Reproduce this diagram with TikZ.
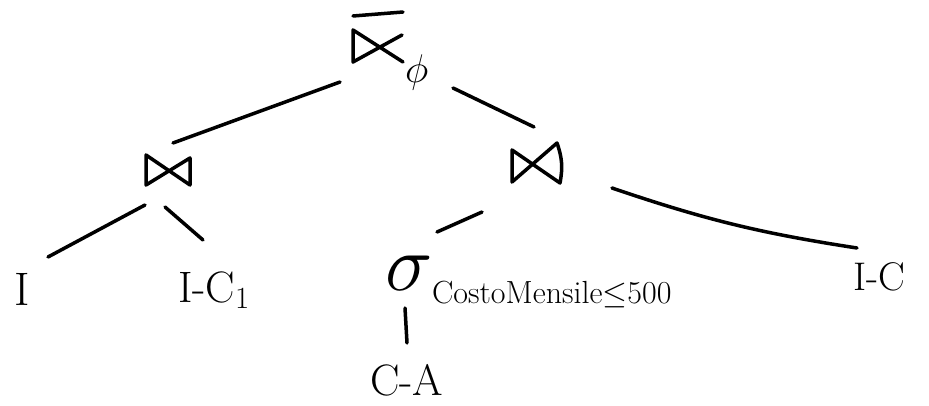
\RequirePackage{fix-cm}
\documentclass[tikz,border=0pt]{standalone}
\usepackage{fontspec}
\usetikzlibrary{calc}
\begin{document}
\begin{tikzpicture}[x=1pt,y=-1pt,
  pen/.style={line width=3.5pt,line cap=round,line join=round},
  edge/.style={line width=3.5pt,line cap=round},
  opbox/.style={inner sep=0pt,outer sep=0pt,minimum width=#1},
  lbl/.style={inner sep=0pt,outer sep=0pt,anchor=base west}
]
\fill[white] (0,0) rectangle (929,406);
\useasboundingbox (0,0) rectangle (929,406);

% operator nodes
\node[opbox=50pt,minimum height=32pt] (root) at (378,46) {};
\node[opbox=44pt,minimum height=30pt] (lj) at (168,170) {};
\node[opbox=48pt,minimum height=40pt] (rj) at (536,163) {};

% operator symbols
\draw[pen] (root.south east) -- (root.north west) -- (root.south west) -- ($(root.north east)+(-1,5)$);
\draw[pen] ($(root.north west)+(0,-14)$) -- ($(root.north east)+(0,-18)$);
\node[lbl,font=\fontsize{40}{44}\selectfont] (phi) at (405,83) {$\phi$};
\draw[pen] (lj.north west) -- (lj.south east) -- ($(lj.north east)+(0,3)$) -- (lj.south west) -- cycle;
\draw[pen] ($(rj.north west)+(0,7)$) -- (rj.south east) to[bend right=15] ($(rj.north east)+(-3,0)$) -- ($(rj.south west)+(0,-1)$) -- cycle;

% leaves and selection
\node[lbl,font=\fontsize{47}{50}\selectfont] (I) at (14,305) {I};
\node[lbl,font=\fontsize{44}{48}\selectfont] (IC1) at (178,302) {I-C$_1$};
\node[lbl,font=\fontsize{80}{84}\selectfont] (sel) at (385,290) {$\sigma$};
\node[lbl,font=\fontsize{32}{36}\selectfont] (cond) at (432,303) {CostoMensile$\leq$500};
\node[lbl,font=\fontsize{44}{48}\selectfont] (CA) at (370,395) {C-A};
\node[lbl,font=\fontsize{40}{44}\selectfont] (IC) at (853,290) {I-C};

% connectors
\draw[edge] ($(root)+(-38,36)$) -- ($(lj)+(5,-27)$);
\draw[edge] ($(root)+(75,42)$) -- ($(rj)+(-2,-36)$);
\draw[edge] ($(lj)+(-23,35)$) -- ($(I.base west)+(34,-48)$);
\draw[edge] ($(lj)+(-3,37)$) -- ($(IC1.base west)+(25,-62)$);
\draw[edge] ($(rj)+(-54,49)$) -- ($(sel.base west)+(52,-58)$);
\draw[edge] ($(rj)+(76,25)$) to[bend right=5] ($(IC.base west)+(4,-42)$);
\draw[edge] ($(sel.base west)+(20,18)$) -- ($(CA.base west)+(37,-52)$);
\end{tikzpicture}
\end{document}
